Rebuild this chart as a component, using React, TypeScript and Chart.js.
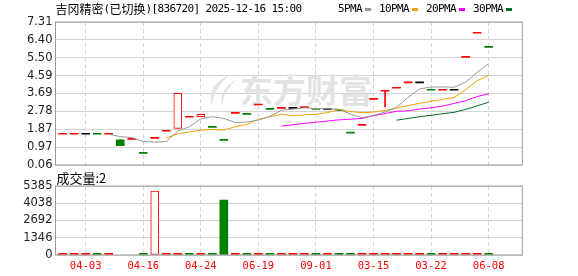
import React, { useEffect, useRef } from 'react';
import { Chart, registerables } from 'chart.js';
Chart.register(...registerables);

// ---------- data ----------
const stockTitle = '吉冈精密(已切换)[836720] 2025-12-16 15:00';
const maNames = ['5PMA', '10PMA', '20PMA', '30PMA'];
const volumeTitle = '成交量:2';
const watermarkText = '东方财富';

const dateLabels = ['04-03', '04-16', '04-24', '06-19', '09-01', '03-15', '03-22', '06-08'];
const dateTickIndex = [2, 7, 12, 17, 22, 27, 32, 37];
const priceTicks = [0.06, 0.97, 1.87, 2.78, 3.69, 4.59, 5.5, 6.4, 7.31];
const volumeTicks = [0, 1346, 2692, 4038, 5385];

const opens = [1.62, 1.62, 1.62, 1.62, 1.62, 1.33, 1.36, 0.65, 1.41, 1.77, 1.92, 2.48, 2.51, 1.97, 1.31, 2.68, 2.63, 3.10, 2.88, 2.93, 2.93, 2.97, 2.88, 2.88, 2.81, 1.68, 2.07, 3.39, 3.80, 3.95, 4.22, 4.22, 3.85, 3.85, 3.85, 5.52, 6.74, 6.02];
const highs = [1.62, 1.62, 1.62, 1.62, 1.62, 1.33, 1.36, 0.65, 1.41, 1.77, 3.69, 2.48, 2.63, 1.97, 1.31, 2.68, 2.63, 3.10, 2.88, 2.93, 2.93, 2.97, 2.88, 2.88, 2.81, 1.68, 2.07, 3.39, 3.80, 3.95, 4.22, 4.22, 3.85, 3.85, 3.85, 5.52, 6.74, 6.02];
const lows = [1.62, 1.62, 1.62, 1.62, 1.62, 1.04, 1.36, 0.65, 1.41, 1.77, 1.92, 2.48, 2.51, 1.97, 1.31, 2.68, 2.63, 3.10, 2.88, 2.93, 2.93, 2.97, 2.88, 2.88, 2.81, 1.68, 2.07, 3.39, 3.00, 3.95, 4.22, 4.22, 3.85, 3.85, 3.85, 5.52, 6.74, 6.02];
const closes = [1.62, 1.62, 1.62, 1.62, 1.62, 1.04, 1.36, 0.65, 1.41, 1.77, 3.69, 2.48, 2.63, 1.97, 1.31, 2.68, 2.63, 3.10, 2.88, 2.93, 2.93, 2.97, 2.88, 2.88, 2.81, 1.68, 2.07, 3.39, 3.80, 3.95, 4.22, 4.22, 3.85, 3.85, 3.85, 5.52, 6.74, 6.02];
// 1 = up, -1 = down, 0 = unchanged
const candleTrend = [1, 1, 0, -1, 1, -1, 1, -1, 1, 1, 1, 1, 1, -1, -1, 1, -1, 1, -1, 1, 0, 1, -1, 0, -1, -1, 1, 1, 1, 1, 1, 0, -1, 1, 0, 1, 1, -1];

const volumes = [2, 2, 2, 2, 2, null, null, 2, 4990, 2, 2, 2, 2, 2, 4290, 2, 2, 2, 2, 2, 2, 2, 2, 2, 2, 2, 2, 2, 2, 2, 2, 2, 2, 2, 2, 2, 2, 2];
const volumeTrend = [1, 1, 1, -1, 1, 0, 0, -1, 1, 1, 1, -1, 1, -1, -1, 1, -1, 1, -1, 1, 1, 1, -1, 1, -1, -1, 1, 1, 1, 1, 1, 1, -1, 1, 1, 1, 1, -1];

const ma5 = [null, null, null, null, 1.62, 1.50, 1.45, 1.26, 1.22, 1.25, 1.78, 2.00, 2.40, 2.51, 2.42, 2.21, 2.24, 2.34, 2.52, 2.84, 2.89, 2.96, 2.92, 2.92, 2.89, 2.64, 2.46, 2.57, 2.75, 2.98, 3.49, 3.92, 4.01, 4.02, 4.00, 4.26, 4.76, 5.20];
const ma10 = [null, null, null, null, null, null, null, null, null, 1.43, 1.64, 1.73, 1.83, 1.86, 1.83, 2.00, 2.12, 2.37, 2.51, 2.63, 2.55, 2.60, 2.63, 2.72, 2.87, 2.77, 2.71, 2.74, 2.83, 2.94, 3.07, 3.19, 3.29, 3.38, 3.49, 3.87, 4.34, 4.60];
const ma20 = [null, null, null, null, null, null, null, null, null, null, null, null, null, null, null, null, null, null, null, 2.03, 2.10, 2.17, 2.23, 2.29, 2.35, 2.38, 2.42, 2.56, 2.67, 2.78, 2.81, 2.90, 2.96, 3.05, 3.18, 3.32, 3.53, 3.67];
const ma30 = [null, null, null, null, null, null, null, null, null, null, null, null, null, null, null, null, null, null, null, null, null, null, null, null, null, null, null, null, null, 2.33, 2.42, 2.51, 2.58, 2.66, 2.73, 2.88, 3.06, 3.24];

// ---------- styles ----------
const RED = '#ff0000';
const GREEN = '#008000';
const BLACK = '#000000';
const MA_COLORS = ['#999999', '#f0a000', '#ff00ff', '#006e2e'];
const GRID = '#d4d4d4';
const FRAME = '#9a9a9a';
const AXIS_TEXT = '#222222';
const CJK = "'Noto Sans CJK SC'";
const MONO = "'DejaVu Sans Mono'";
const X_MIN = -0.62;
const X_MAX = 39.92;

const trendColor = (t: number) => (t > 0 ? RED : t < 0 ? GREEN : BLACK);

function drawGridText(ctx: CanvasRenderingContext2D, text: string, x: number, y: number, color: string) {
  ctx.save();
  ctx.fillStyle = color;
  ctx.textBaseline = 'middle';
  ctx.textAlign = 'left';
  let cx = x;
  for (const ch of text) {
    const wide = ch.charCodeAt(0) > 0x2e80;
    ctx.font = wide ? `12px ${CJK}` : `11px ${MONO}`;
    ctx.fillText(ch, cx, y);
    cx += wide ? 12 : 6;
  }
  ctx.restore();
  return cx;
}

function frame(chart: any) {
  const { ctx, chartArea: a } = chart;
  ctx.save();
  ctx.strokeStyle = FRAME;
  ctx.lineWidth = 1;
  ctx.strokeRect(a.left, a.top, a.right - a.left, a.bottom - a.top);
  ctx.restore();
}

export default function App() {
  const priceRef = useRef<HTMLCanvasElement>(null);
  const volRef = useRef<HTMLCanvasElement>(null);

  useEffect(() => {
    const idx = closes.map((_, i) => i);
    const bodyData = idx.map((i) => ({ x: i, y: [opens[i], closes[i]] }));
    const wickIdx = idx.filter((i) => highs[i] > lows[i]);
    const wickData = wickIdx.map((i) => ({ x: i, y: [lows[i], highs[i]] }));
    const maData = (arr: (number | null)[]) =>
      arr.map((v, i) => (v == null ? null : { x: i, y: v })).filter((p) => p !== null);

    const xScaleBase = {
      type: 'linear',
      min: X_MIN,
      max: X_MAX,
      offset: false,
      afterBuildTicks: (s: any) => {
        s.ticks = dateTickIndex.map((v) => ({ value: v }));
      },
      grid: { color: GRID, drawTicks: false, offset: false, lineWidth: 1 },
      border: { display: false, dash: [4, 3] },
    };

    const pricePlugin = {
      id: 'pricePlugin',
      beforeDatasetsDraw(chart: any) {
        const { ctx } = chart;
        const xs = chart.scales.x;
        const ys = chart.scales.y;
        const wx = xs.getPixelForValue(15.4);
        const wy = ys.getPixelForValue(3.86);
        ctx.save();
        ctx.fillStyle = '#e3e3e3';
        ctx.font = `bold 33px ${CJK}`;
        ctx.textBaseline = 'middle';
        ctx.textAlign = 'left';
        ctx.fillText(watermarkText, wx, wy);
        // swirl mark of the watermark
        const lx = wx - 32;
        const ly = wy;
        ctx.beginPath();
        ctx.moveTo(lx + 24, ly - 16);
        ctx.quadraticCurveTo(lx - 2, ly - 6, lx + 4, ly + 16);
        ctx.quadraticCurveTo(lx + 6, ly - 4, lx + 24, ly - 16);
        ctx.fill();
        ctx.beginPath();
        ctx.moveTo(lx + 30, ly - 12);
        ctx.quadraticCurveTo(lx + 10, ly, lx + 14, ly + 16);
        ctx.quadraticCurveTo(lx + 16, ly, lx + 30, ly - 12);
        ctx.fill();
        ctx.restore();
      },
      afterDraw(chart: any) {
        frame(chart);
        const { ctx, chartArea: a } = chart;
        drawGridText(ctx, stockTitle, a.left, 9, BLACK);
        let x = 338;
        maNames.forEach((n, k) => {
          x = drawGridText(ctx, n, x, 9, BLACK);
          x += 3;
          ctx.fillStyle = MA_COLORS[k];
          ctx.fillRect(x, 8, 6, 3);
          x += 6 + 8;
        });
      },
    };

    const priceChart = new Chart(priceRef.current!, {
      type: 'bar',
      data: {
        datasets: [
          ...[ma5, ma10, ma20, ma30].map((arr, k) => ({
            type: 'line' as const,
            label: maNames[k],
            data: maData(arr) as any,
            borderColor: MA_COLORS[k],
            borderWidth: 1,
            pointRadius: 0,
            tension: 0,
            fill: false,
            order: 0,
          })),
          {
            type: 'bar' as const,
            label: 'body',
            data: bodyData as any,
            grouped: false,
            barThickness: 8,
            minBarLength: 1,
            borderSkipped: false,
            backgroundColor: (c: any) => {
              const i = c.dataIndex;
              if (opens[i] === closes[i]) return trendColor(candleTrend[i]);
              return closes[i] > opens[i] ? '#ffffff' : GREEN;
            },
            borderColor: (c: any) => {
              const i = c.dataIndex;
              if (opens[i] === closes[i]) return trendColor(candleTrend[i]);
              return closes[i] > opens[i] ? RED : GREEN;
            },
            borderWidth: (c: any) => {
              const i = c.dataIndex;
              return closes[i] > opens[i] ? 1 : 0;
            },
            order: 1,
          },
          {
            type: 'bar' as const,
            label: 'wick',
            data: wickData as any,
            grouped: false,
            barThickness: 1,
            borderWidth: 0,
            backgroundColor: (c: any) => trendColor(candleTrend[wickIdx[c.dataIndex]]),
            order: 2,
          },
        ],
      },
      options: {
        animation: false,
        responsive: false,
        maintainAspectRatio: false,
        events: [],
        layout: { padding: { left: 0, right: 55.7, top: 22, bottom: 15 } },
        plugins: { legend: { display: false }, tooltip: { enabled: false } },
        scales: {
          x: {
            ...(xScaleBase as any),
            ticks: { display: false },
            afterFit: (s: any) => {
              s.height = 0;
            },
          },
          y: {
            type: 'linear',
            min: priceTicks[0],
            max: priceTicks[priceTicks.length - 1],
            beginAtZero: false,
            afterBuildTicks: (s: any) => {
              s.ticks = priceTicks.map((v) => ({ value: v }));
            },
            afterFit: (s: any) => {
              s.width = 55.5;
            },
            grid: { color: GRID, drawTicks: false, lineWidth: 1 },
            border: { display: false },
            ticks: {
              autoSkip: false,
              padding: 3,
              color: AXIS_TEXT,
              font: { family: "'DejaVu Sans'", size: 11.5 },
              callback: (v: any) => Number(v).toFixed(2),
            },
          },
        },
      },
      plugins: [pricePlugin],
    } as any);

    const volPlugin = {
      id: 'volPlugin',
      afterDraw(chart: any) {
        frame(chart);
        const { ctx, chartArea: a } = chart;
        ctx.save();
        ctx.fillStyle = BLACK;
        ctx.font = `13px ${CJK}`;
        ctx.textBaseline = 'middle';
        ctx.textAlign = 'left';
        ctx.fillText(volumeTitle, a.left + 1, 10);
        ctx.restore();
      },
    };

    const volIdx = idx.filter((i) => volumes[i] != null);
    const volData = volIdx.map((i) => ({ x: i, y: volumes[i] }));
    const hollow = (i: number) => volumeTrend[i] > 0 && (volumes[i] as number) > volumeTicks[1] / 10;

    const volChart = new Chart(volRef.current!, {
      type: 'bar',
      data: {
        datasets: [
          {
            label: 'volume',
            data: volData as any,
            grouped: false,
            barThickness: 8,
            minBarLength: 1.6,
            borderSkipped: false,
            backgroundColor: (c: any) => {
              const i = volIdx[c.dataIndex];
              return hollow(i) ? '#ffffff' : trendColor(volumeTrend[i]);
            },
            borderColor: (c: any) => trendColor(volumeTrend[volIdx[c.dataIndex]]),
            borderWidth: (c: any) => (hollow(volIdx[c.dataIndex]) ? 1 : 0),
          },
        ],
      },
      options: {
        animation: false,
        responsive: false,
        maintainAspectRatio: false,
        events: [],
        layout: { padding: { left: 0, right: 55.7, top: 18, bottom: 0 } },
        plugins: { legend: { display: false }, tooltip: { enabled: false } },
        scales: {
          x: {
            ...(xScaleBase as any),
            afterFit: (s: any) => {
              s.height = 21;
            },
            ticks: {
              autoSkip: false,
              maxRotation: 0,
              padding: 5,
              color: RED,
              font: { family: MONO, size: 10.5 },
              callback: (v: any) => dateLabels[dateTickIndex.indexOf(Number(v))] ?? '',
            },
          },
          y: {
            type: 'linear',
            min: volumeTicks[0],
            max: volumeTicks[volumeTicks.length - 1],
            afterBuildTicks: (s: any) => {
              s.ticks = volumeTicks.map((v) => ({ value: v }));
            },
            afterFit: (s: any) => {
              s.width = 55.5;
            },
            grid: { color: GRID, drawTicks: false, lineWidth: 1 },
            border: { display: false },
            ticks: {
              autoSkip: false,
              padding: 3,
              color: AXIS_TEXT,
              font: { family: "'DejaVu Sans'", size: 11.5 },
              callback: (v: any) => String(Math.round(Number(v))),
            },
          },
        },
      },
      plugins: [volPlugin],
    } as any);

    return () => {
      priceChart.destroy();
      volChart.destroy();
    };
  }, []);

  return (
    <div style={{ position: 'fixed', left: 0, top: 0, width: 578, height: 276, background: '#fff', overflow: 'hidden' }}>
      <canvas ref={priceRef} width={578} height={180} style={{ position: 'absolute', left: 0, top: 0, width: 578, height: 180 }} />
      <canvas ref={volRef} width={578} height={108} style={{ position: 'absolute', left: 0, top: 168, width: 578, height: 108 }} />
    </div>
  );
}
